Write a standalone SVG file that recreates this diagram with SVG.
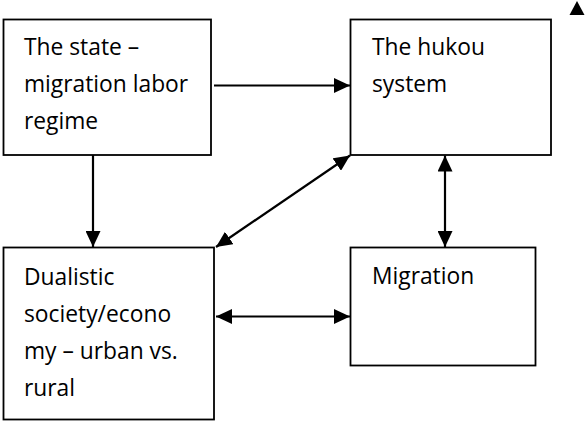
<svg xmlns="http://www.w3.org/2000/svg" width="586" height="421" viewBox="0 0 586 421">
<defs>
<style>
.box{fill:#fff;stroke:#000;stroke-width:1.8}
.lbl{font-family:"Open Sans","Liberation Sans",sans-serif;font-size:22.8px;fill:#000}
.con{stroke:#000;stroke-width:2.2;fill:none}
</style>
<marker id="ah" viewBox="0 0 16 15" refX="16" refY="7.5" markerWidth="16" markerHeight="15" markerUnits="userSpaceOnUse" orient="auto-start-reverse">
<path d="M0,0 L16,7.5 L0,15 Z" fill="#000"/>
</marker>
</defs>
<rect width="586" height="421" fill="#fff"/>
<g id="state">
<rect class="box" x="3.5" y="19.5" width="207.5" height="135.5"/>
<text class="lbl" x="24" y="55">The state –</text>
<text class="lbl" x="24" y="92">migration labor</text>
<text class="lbl" x="24" y="129">regime</text>
</g>
<g id="hukou">
<rect class="box" x="350.5" y="19.5" width="200.5" height="135.5"/>
<text class="lbl" x="372" y="55">The hukou</text>
<text class="lbl" x="372" y="92">system</text>
</g>
<g id="dualistic">
<rect class="box" x="3.5" y="247.5" width="210.5" height="172"/>
<text class="lbl" x="24" y="285">Dualistic</text>
<text class="lbl" x="24" y="322">society/econo</text>
<text class="lbl" x="24" y="359">my – urban vs.</text>
<text class="lbl" x="24" y="396">rural</text>
</g>
<g id="migration">
<rect class="box" x="350.5" y="247.5" width="185" height="118"/>
<text class="lbl" x="372" y="284">Migration</text>
</g>
<g id="connectors">
<line class="con" x1="214" y1="85.5" x2="350" y2="85.5" marker-end="url(#ah)"/>
<line class="con" x1="93" y1="155" x2="93" y2="247" marker-end="url(#ah)"/>
<line class="con" x1="350" y1="155.5" x2="216" y2="247" marker-start="url(#ah)" marker-end="url(#ah)"/>
<line class="con" x1="445" y1="155.5" x2="445" y2="247" marker-start="url(#ah)" marker-end="url(#ah)"/>
<line class="con" x1="216" y1="316.5" x2="350" y2="316.5" marker-start="url(#ah)" marker-end="url(#ah)"/>
</g>
<path d="M577,1 L584.5,15 L569.5,15 Z" fill="#000"/>
</svg>
